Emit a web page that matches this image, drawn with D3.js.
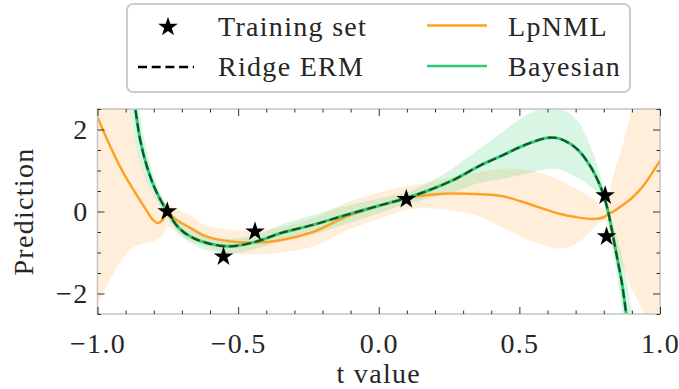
<!DOCTYPE html>
<html>
<head>
<meta charset="utf-8">
<script src="https://cdn.jsdelivr.net/npm/d3@7"></script>
<style>
  body { margin: 0; background: #fff; }
  svg { display: block; }
  text { font-family: "Liberation Serif", "Times New Roman", serif; fill: #262626; }
</style>
</head>
<body>
<svg id="chart" width="679" height="389"></svg>
<script>
// Training samples
const trainT = [-0.752, -0.552, -0.44, 0.098, 0.805, 0.81];
const trainY = [0.0, -1.10, -0.49, 0.30, 0.39, -0.61];

// Bayesian posterior mean (identical to the Ridge ERM fit) and its predictive half-width
const bayesT = [-0.92, -0.865, -0.848, -0.824, -0.794, -0.752, -0.711, -0.67, -0.61, -0.528,
  -0.433, -0.35, -0.231, -0.113, 0.0, 0.1, 0.183, 0.266, 0.36, 0.443,
  0.526, 0.603, 0.645, 0.704, 0.751, 0.787, 0.81, 0.828, 0.846, 0.864, 0.879, 0.9];
const bayesMean = [5.3, 2.48, 1.74, 1.09, 0.53, 0.0, -0.40, -0.61, -0.77, -0.85,
  -0.73, -0.53, -0.32, -0.08, 0.14, 0.33, 0.53, 0.77, 1.12, 1.38,
  1.64, 1.80, 1.77, 1.53, 1.12, 0.63, 0.15, -0.42, -1.07, -1.72, -2.45, -3.5];
const bayesStd = [1.5, 0.8, 0.55, 0.38, 0.22, 0.13, 0.14, 0.16, 0.18, 0.18,
  0.17, 0.2, 0.24, 0.22, 0.18, 0.14, 0.2, 0.3, 0.42, 0.58,
  0.72, 0.76, 0.75, 0.7, 0.5, 0.25, 0.12, 0.25, 0.45, 0.65, 0.85, 1.1];

// LpNML prediction and its confidence band
const lpnmlT = [-1.0, -0.96, -0.912, -0.865, -0.83, -0.806, -0.788, -0.77, -0.752, -0.72,
  -0.67, -0.616, -0.55, -0.456, -0.35, -0.23, -0.113, 0.0, 0.1, 0.183,
  0.27, 0.36, 0.443, 0.562, 0.645, 0.704, 0.763, 0.80, 0.816, 0.834,
  0.87, 0.9, 0.941, 1.0];
const lpnmlMean = [2.3, 1.67, 0.99, 0.45, 0.07, -0.18, -0.28, -0.22, -0.04, -0.2,
  -0.40, -0.6, -0.71, -0.76, -0.70, -0.49, -0.12, 0.14, 0.33, 0.41,
  0.44, 0.42, 0.37, 0.12, -0.06, -0.14, -0.18, -0.14, -0.06, 0.0,
  0.17, 0.33, 0.63, 1.24];
const lpnmlLower = [-2.3, -1.72, -1.15, -0.85, -0.78, -0.74, -0.68, -0.6, -0.38, -0.5,
  -0.72, -0.85, -1.0, -1.05, -1.0, -0.85, -0.46, -0.18, 0.04, 0.08,
  0.02, -0.12, -0.40, -0.77, -0.91, -0.78, -0.42, -0.22, -0.4, -0.91,
  -1.4, -1.9, -2.45, -4.0];
const lpnmlUpper = [7.0, 5.0, 3.5, 1.69, 0.88, 0.5, 0.31, 0.18, 0.2, 0.07,
  -0.1, -0.34, -0.42, -0.48, -0.38, -0.15, 0.22, 0.46, 0.62, 0.72,
  0.86, 0.96, 1.05, 0.97, 0.75, 0.55, 0.31, 0.07, 0.3, 0.88,
  1.69, 2.5, 3.7, 6.5];

// Axis ticks and labels
const xMajor = [-1, -0.5, 0, 0.5, 1];
const xMinor = d3.range(-9, 10).map(i => i / 10).filter(v => Math.abs(v * 2 - Math.round(v * 2)) > 1e-9);
const yMajor = [-2, 0, 2];
const yMinor = [-2.5, -1.5, -1, -0.5, 0.5, 1, 1.5, 2.5];
const xTitle = "t value";
const yTitle = "Prediction";
const legendItems = ["Training set", "Ridge ERM", "LpNML", "Bayesian"];

const colOrange = "#ffa126";
const colGreen = "#2ecc71";
const fontSize = 28;
const spacing = "1.3px";

const svg = d3.select("#chart");
const pL = 97.5, pR = 660, pT = 109, pB = 314;
const x = d3.scaleLinear().domain([-1, 1]).range([pL, pR]);
const y = d3.scaleLinear().domain([-2.5, 2.5]).range([pB, pT]);

svg.append("defs").append("clipPath").attr("id", "plotClip")
  .append("rect").attr("x", pL).attr("y", pT)
  .attr("width", pR - pL).attr("height", pB - pT);

const plot = svg.append("g").attr("clip-path", "url(#plotClip)");
const curve = d3.curveCatmullRom.alpha(0.5);

const lp = lpnmlT.map((t, i) => ({ t, m: lpnmlMean[i], lo: lpnmlLower[i], hi: lpnmlUpper[i] }));
const by = bayesT.map((t, i) => ({ t, m: bayesMean[i], lo: bayesMean[i] - bayesStd[i], hi: bayesMean[i] + bayesStd[i] }));

const band = d3.area().x(d => x(d.t)).y0(d => y(d.lo)).y1(d => y(d.hi)).curve(curve);
const line = d3.line().x(d => x(d.t)).y(d => y(d.m)).curve(curve);

plot.append("path").datum(lp).attr("d", band).attr("fill", colOrange).attr("fill-opacity", 0.17);
plot.append("path").datum(by).attr("d", band).attr("fill", colGreen).attr("fill-opacity", 0.18);
plot.append("path").datum(lp).attr("d", line).attr("fill", "none")
  .attr("stroke", colOrange).attr("stroke-width", 2.5);
plot.append("path").datum(by).attr("d", line).attr("fill", "none")
  .attr("stroke", colGreen).attr("stroke-width", 3);
plot.append("path").datum(by).attr("d", line).attr("fill", "none")
  .attr("stroke", "#000").attr("stroke-opacity", 0.6).attr("stroke-width", 2.2)
  .attr("stroke-dasharray", "9,4");

const star = d3.symbol().type(d3.symbolStar).size(120);
svg.append("g").selectAll("path").data(trainT).join("path")
  .attr("transform", (t, i) => `translate(${x(t)},${y(trainY[i])})`)
  .attr("d", star).attr("fill", "#000");

// Frame
svg.append("rect").attr("x", pL).attr("y", pT)
  .attr("width", pR - pL).attr("height", pB - pT)
  .attr("fill", "none").attr("stroke", "#c4c4c4").attr("stroke-width", 1.5);

// Inward ticks on all four sides
function styleAxis(g) {
  g.select(".domain").remove();
  g.selectAll(".tick line").attr("stroke", "#333").attr("stroke-width", 1);
  g.selectAll(".tick text").attr("font-size", fontSize).attr("fill", "#262626")
    .attr("letter-spacing", spacing)
    .style("font-family", '"Liberation Serif", serif');
}
svg.append("g").attr("transform", `translate(0,${pB})`)
  .call(d3.axisBottom(x).tickValues(xMajor).tickSize(-7).tickPadding(19).tickFormat(d3.format(".1f")))
  .call(styleAxis);
svg.append("g").attr("transform", `translate(0,${pB})`)
  .call(d3.axisBottom(x).tickValues(xMinor).tickSize(-3.5).tickFormat(""))
  .call(styleAxis);
svg.append("g").attr("transform", `translate(0,${pT})`)
  .call(d3.axisTop(x).tickValues(xMajor).tickSize(-7).tickFormat(""))
  .call(styleAxis);
svg.append("g").attr("transform", `translate(0,${pT})`)
  .call(d3.axisTop(x).tickValues(xMinor).tickSize(-3.5).tickFormat(""))
  .call(styleAxis);
svg.append("g").attr("transform", `translate(${pL},0)`)
  .call(d3.axisLeft(y).tickValues(yMajor).tickSize(-7).tickPadding(9).tickFormat(d3.format("d")))
  .call(styleAxis);
svg.append("g").attr("transform", `translate(${pL},0)`)
  .call(d3.axisLeft(y).tickValues(yMinor).tickSize(-3.5).tickFormat(""))
  .call(styleAxis);
svg.append("g").attr("transform", `translate(${pR},0)`)
  .call(d3.axisRight(y).tickValues(yMajor).tickSize(-7).tickFormat(""))
  .call(styleAxis);
svg.append("g").attr("transform", `translate(${pR},0)`)
  .call(d3.axisRight(y).tickValues(yMinor).tickSize(-3.5).tickFormat(""))
  .call(styleAxis);

// Axis titles
svg.append("text").attr("x", (pL + pR) / 2).attr("y", 383)
  .attr("text-anchor", "middle").attr("font-size", fontSize)
  .attr("letter-spacing", spacing).text(xTitle);
svg.append("text").attr("transform", `translate(33,${(pT + pB) / 2}) rotate(-90)`)
  .attr("text-anchor", "middle").attr("font-size", fontSize)
  .attr("letter-spacing", spacing).text(yTitle);

// Legend
const lg = svg.append("g");
lg.append("rect").attr("x", 127).attr("y", 4).attr("width", 503).attr("height", 88)
  .attr("rx", 6).attr("fill", "#fff").attr("fill-opacity", 0.85)
  .attr("stroke", "#cccccc").attr("stroke-width", 2);
lg.append("path").attr("transform", "translate(168,27)").attr("d", star).attr("fill", "#000");
lg.append("line").attr("x1", 138).attr("x2", 194).attr("y1", 67).attr("y2", 67)
  .attr("stroke", "#000").attr("stroke-width", 2.5).attr("stroke-dasharray", "9,4.7");
lg.append("line").attr("x1", 427).attr("x2", 487).attr("y1", 25.5).attr("y2", 25.5)
  .attr("stroke", colOrange).attr("stroke-width", 2.5);
lg.append("line").attr("x1", 427).attr("x2", 487).attr("y1", 66).attr("y2", 66)
  .attr("stroke", colGreen).attr("stroke-width", 2.5);
const legendPos = [[218, 36], [218, 76], [508, 36], [508, 76]];
lg.selectAll("text.lbl").data(legendItems).join("text").attr("class", "lbl")
  .attr("x", (d, i) => legendPos[i][0]).attr("y", (d, i) => legendPos[i][1])
  .attr("font-size", fontSize).attr("letter-spacing", spacing).text(d => d);
</script>
</body>
</html>
